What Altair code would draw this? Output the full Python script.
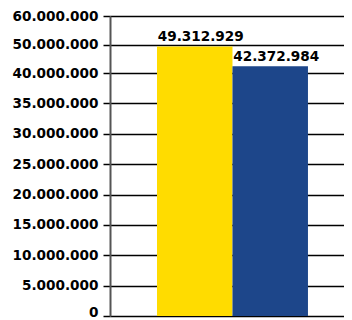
import altair as alt
import pandas as pd

categories = ["A", "B"]
values = [49312929, 42372984]
colors = ["#FFDC00", "#1D468A"]
tick_values = [0, 5000000, 10000000, 15000000, 20000000, 25000000, 30000000,
               35000000, 40000000, 50000000, 60000000]

df = pd.DataFrame({"cat": categories, "val": values})

fmt = "replace(format(datum.value, ','), /,/g, '.')"

H = 300
y_scale = alt.Scale(domain=[0, 40000000, 60000000], range=[H, 0.19 * H, 0], nice=False, zero=True)

y_axis = alt.Axis(values=tick_values, labelExpr=fmt, title=None, labelOverlap=False,
                  grid=True, gridColor="#000000", gridWidth=1.5, gridOpacity=1,
                  domainColor="#555555", domainWidth=2,
                  tickColor="#000000", tickSize=7, tickWidth=1.5,
                  labelFont="DejaVu Sans", labelFontWeight="bold",
                  labelBaseline={"condition": {"test": "datum.value == 0", "value": "alphabetic"},
                                 "value": "middle"},
                  labelFontSize=13.6, labelColor="#000000", labelPadding=5)

base = alt.Chart(df).encode(
    x=alt.X("cat:N", axis=None,
            scale=alt.Scale(domain=categories, paddingInner=0, paddingOuter=0.55, align=0.566)),
    y=alt.Y("val:Q", scale=y_scale, axis=y_axis),
)

bars = base.mark_bar().encode(
    color=alt.Color("cat:N", scale=alt.Scale(domain=categories, range=colors), legend=None),
)

labels = base.transform_calculate(
    lab="replace(format(datum.val, ','), /,/g, '.')"
).mark_text(
    font="DejaVu Sans", fontWeight="bold", fontSize=13.6, color="#000000",
    baseline="alphabetic", align="center", dx=6, dy=-5,
).encode(
    text="lab:N",
)

chart = (bars + labels).properties(
    width=234, height=H,
    autosize=alt.AutoSizeParams(type="none"),
    padding={"left": 102, "top": 8, "right": 0, "bottom": 4},
).configure_view(stroke=None)

chart.save("out.html", embed_options={"renderer": "svg", "actions": False})
